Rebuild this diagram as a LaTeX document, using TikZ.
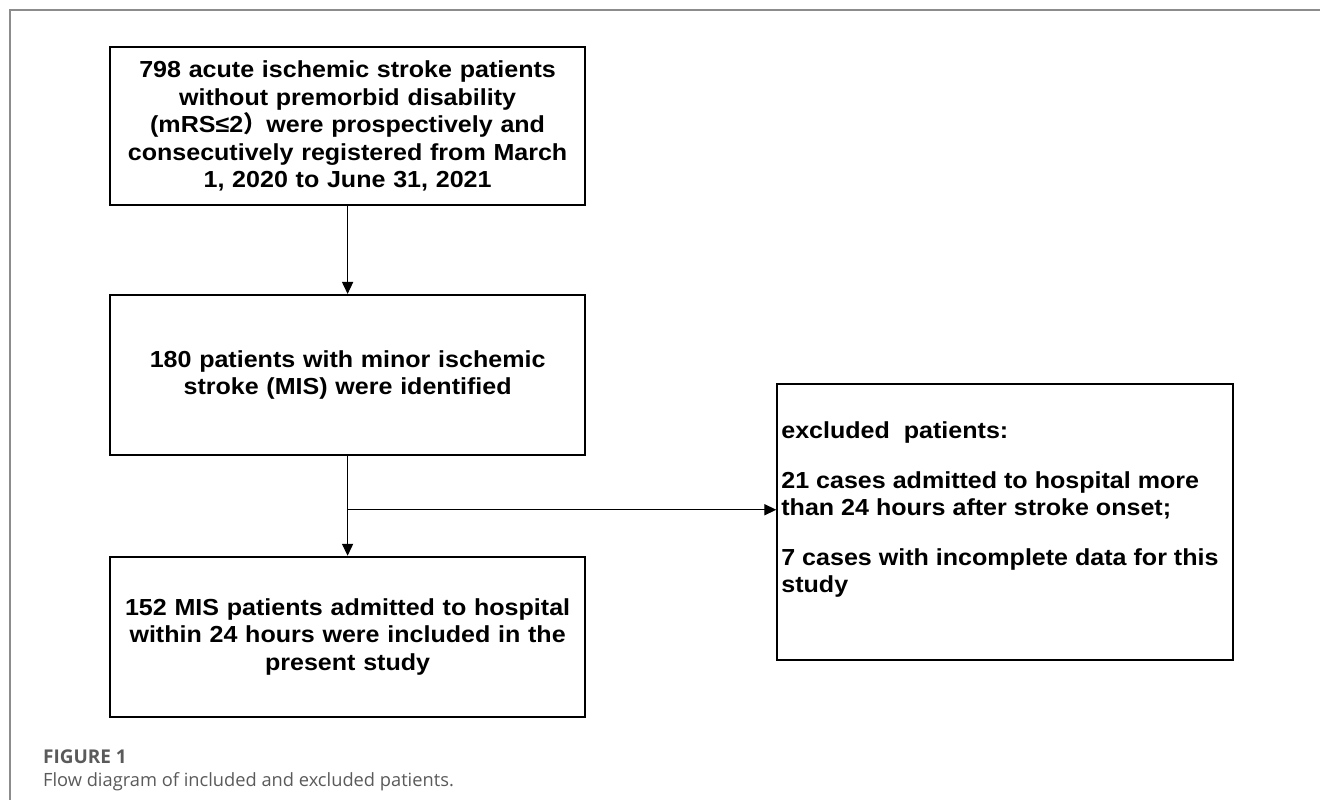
\documentclass[tikz,border=0pt]{standalone}
\usepackage{fontspec}
\setmainfont{Liberation Sans}[FakeStretch=1.08]
\newfontfamily\cjk{Noto Sans CJK SC}
\newfontfamily\capfont{Open Sans}
\usepackage{xcolor}
\usetikzlibrary{arrows.meta, positioning}
\definecolor{framegray}{HTML}{8C8C8C}
\definecolor{capgray}{HTML}{5A5A5A}

\begin{document}
\begin{tikzpicture}[
  stage/.style={draw, line width=1.3pt, minimum width=11.875cm, minimum height=4cm, text width=11.6cm, align=center, inner sep=0pt, font=\fontsize{16.5}{19.5}\selectfont\bfseries},
  exclbox/.style={draw, line width=1.3pt, minimum width=11.4cm, minimum height=6.9cm, inner sep=0pt},
  flow/.style={-{Triangle[length=3mm, width=2.8mm]}, line width=0.7pt},
  node distance=2.2cm
]
\useasboundingbox (0,0) rectangle (33,-20);
% figure frame
\draw[framegray, line width=1.4pt] (0.25,-20) -- (0.25,-0.25) -- (33,-0.25);

\node[stage, minimum height=3.95cm] (reg) at (8.69,-3.15) {798 acute ischemic stroke patients\\ without premorbid disability\\ (mRS≤2{\cjk ）}were prospectively and\\ consecutively registered from March\\ 1, 2020 to June 31, 2021};
\node[stage, below=of reg] (mis) {180 patients with minor ischemic\\ stroke (MIS) were identified};
\node[stage, below=2.5cm of mis] (incl) {152 MIS patients admitted to hospital\\ within 24 hours were included in the\\ present study};

\node[exclbox] (excl) at (25.13,-13.05) {};
\node[anchor=north west, align=left, inner sep=0pt, font=\fontsize{16.5}{19.5}\selectfont\bfseries] (excltext) at ([xshift=0.12cm, yshift=-0.95cm]excl.north west) {excluded\ \ patients:\\[16pt] 21 cases admitted to hospital more\\ than 24 hours after stroke onset;\\[16pt] 7 cases with incomplete data for this\\ study};

\coordinate (split) at ([yshift=-1.35cm]mis.south);
\draw[flow] (reg.south) -- (mis.north);
\draw[flow] (mis.south) -- (incl.north);
\draw[flow] (split) -- (split -| excl.west);

% caption
\node[anchor=west, inner sep=0pt, text=capgray, font=\capfont\bfseries\fontsize{13.5}{15}\selectfont] (figno) at (1.07,-18.92) {FIGURE 1};
\node[anchor=west, inner sep=0pt, text=capgray, font=\capfont\fontsize{13}{15}\selectfont] (figcap) at (1.07,-19.55) {Flow diagram of included and excluded patients.};
\end{tikzpicture}
\end{document}
